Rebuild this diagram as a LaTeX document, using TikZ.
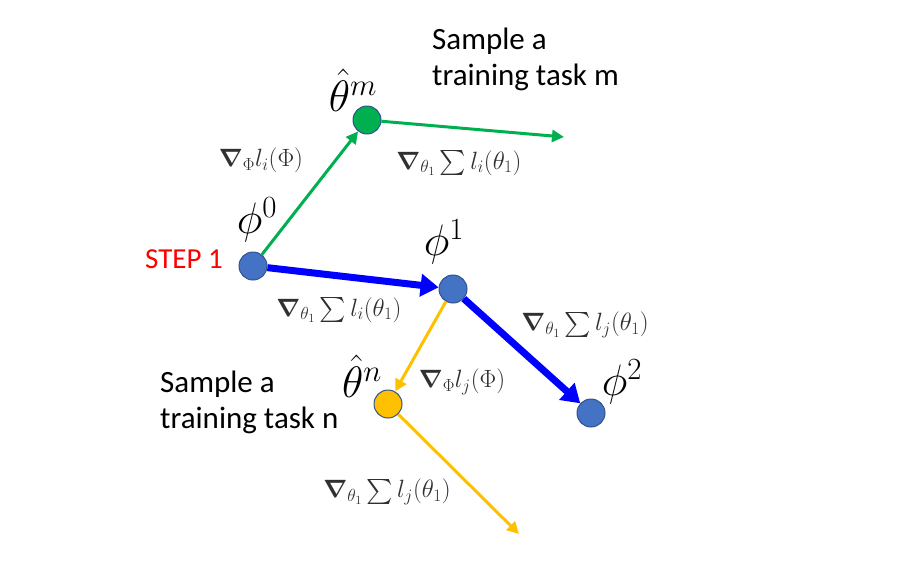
\RequirePackage{fix-cm}
\documentclass[tikz,border=0pt]{standalone}
\usepackage{amsmath,amssymb,bm}
\usepackage{fontspec}
\setmainfont{Carlito}
\usetikzlibrary{arrows.meta}
\definecolor{cblue}{HTML}{4472C4}
\definecolor{cblueedge}{HTML}{2F528F}
\definecolor{cgreen}{HTML}{00B050}
\definecolor{cyellow}{HTML}{FFC000}
\definecolor{labgray}{HTML}{303030}
\tikzset{
  dotnode/.style={circle, minimum size=28pt, inner sep=0pt, draw=cblueedge, line width=1pt},
  thinarrow/.style={line width=3pt, -{Triangle[length=12pt,width=12pt]}},
  thickarrow/.style={draw=blue, line width=7pt, -{Triangle[length=18pt,width=22pt]}},
  mlabel/.style={text=labgray, font=\fontsize{25}{30}\selectfont, inner sep=0pt},
  symlabel/.style={font=\fontsize{44}{50}\selectfont, inner sep=0pt},
  tasktext/.style={font=\fontsize{31}{36}\selectfont, align=left, inner sep=0pt, anchor=north west}
}
\begin{document}
\begin{tikzpicture}[x=1pt,y=-1pt]
\useasboundingbox (0,0) rectangle (904,587);
% nodes
\node[dotnode, fill=cblue] (p0) at (253,266) {};
\node[dotnode, fill=cgreen] (thm) at (367,120) {};
\node[dotnode, fill=cblue] (p1) at (453,289) {};
\node[dotnode, fill=cblue] (p2) at (591,413) {};
\node[dotnode, fill=cyellow] (thn) at (388,404) {};
\coordinate (gend) at (564,137);
\coordinate (yend) at (519,534);
% arrows
\draw[thinarrow, draw=cgreen, fill=cgreen] (p0) -- (thm);
\draw[thinarrow, draw=cgreen, fill=cgreen] (thm) -- (gend);
\draw[thickarrow] (p0) -- (p1);
\draw[thickarrow] (p1) -- (p2);
\draw[thinarrow, draw=cyellow, fill=cyellow] (p1) -- (thn);
\draw[thinarrow, draw=cyellow, fill=cyellow] (thn) -- (yend);
% symbol labels
\node[symlabel] (lp0) at (257,220) {$\phi^0$};
\node[symlabel] (lthm) at (353,90) {$\hat\theta^m$};
\node[symlabel] (lp1) at (444,242) {$\phi^1$};
\node[symlabel] (lp2) at (622,382) {$\phi^2$};
\node[symlabel] (lthn) at (362,376) {$\hat\theta^n$};
% gradient labels
\node[mlabel] (g1) at (261,160) {$\bm{\nabla}_{\Phi} l_i(\Phi)$};
\node[mlabel] (g2) at (459,163) {$\bm{\nabla}_{\theta_1} \sum l_i(\theta_1)$};
\node[mlabel] (g3) at (339,310) {$\bm{\nabla}_{\theta_1} \sum l_i(\theta_1)$};
\node[mlabel] (g4) at (585,325) {$\bm{\nabla}_{\theta_1} \sum l_j(\theta_1)$};
\node[mlabel] (g5) at (462,382) {$\bm{\nabla}_{\Phi} l_j(\Phi)$};
\node[mlabel] (g6) at (387,492) {$\bm{\nabla}_{\theta_1} \sum l_j(\theta_1)$};
% texts
\node[tasktext] (tm) at (432,28) {Sample a\\training task m};
\node[tasktext] (tn) at (160,371) {Sample a\\training task n};
\node[font=\fontsize{29}{34}\selectfont, text=red, inner sep=0pt] (step) at (184,259) {STEP 1};
\end{tikzpicture}
\end{document}
